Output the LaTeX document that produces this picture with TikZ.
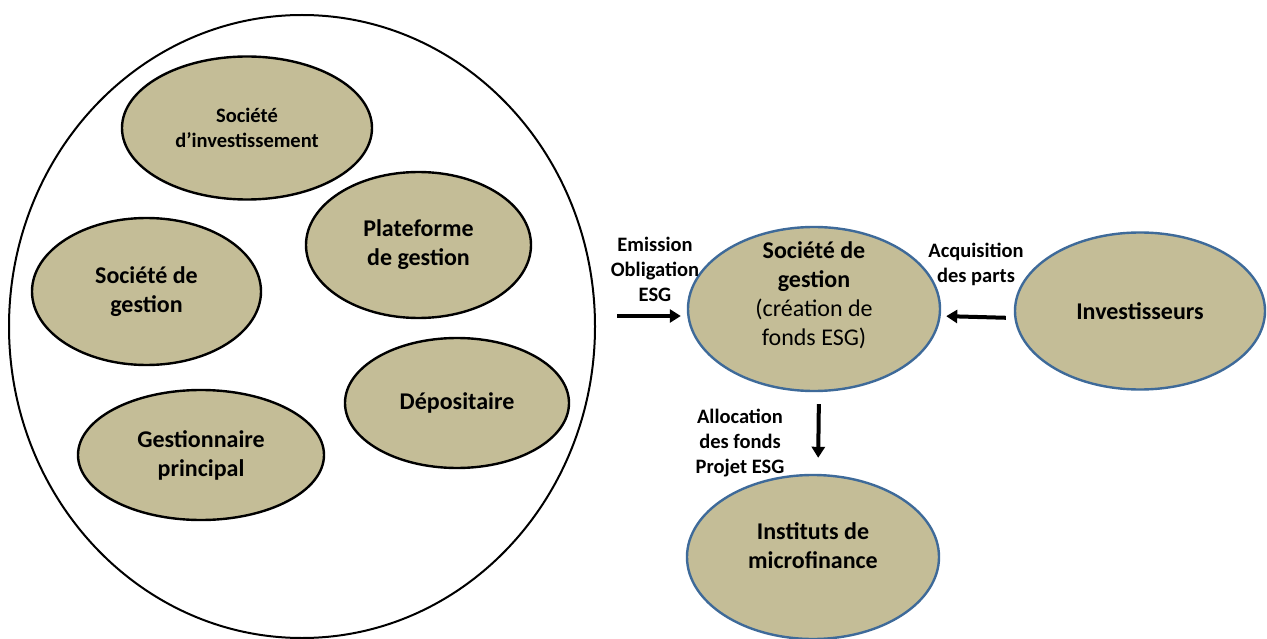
\documentclass[tikz,border=0pt]{standalone}
\usepackage{fontspec}
\setmainfont{Carlito}
\usepackage{xcolor}
\usepackage{tikz}
\usetikzlibrary{shapes, calc, arrows.meta, positioning}
\definecolor{khaki}{RGB}{196,189,151}
\definecolor{steelblue}{RGB}{62,106,153}

\begin{document}
\begin{tikzpicture}[x=1pt, y=-1pt,
	big/.style={font=\fontsize{24}{29}\selectfont\bfseries},
	blob/.style={ellipse, draw=black, line width=2.4pt, fill=khaki, inner sep=0pt, align=center, big},
	blueblob/.style={blob, draw=steelblue},
	flow/.style={line width=4pt, -{Triangle[length=11pt,width=13pt]}},
	tag/.style={align=center, font=\fontsize{20.5}{25}\selectfont\bfseries}]
	\path[use as bounding box, fill=white] (0,0) rectangle (1267,639);
	
	\node[draw, ellipse, line width=2pt, inner sep=0pt, minimum width=586pt, minimum height=623pt] (group) at (302,326.5) {};
	\node[blob, minimum width=250pt, minimum height=143pt, font=\fontsize{20.5}{25}\selectfont\bfseries] (invsoc) at (247,128) {Société\\d’investissement};
	\node[blob, minimum width=225pt, minimum height=146pt] (platf) at (418.5,245) {Plateforme\\de gestion};
	\node[blob, minimum width=229pt, minimum height=147pt] (socg) at (146.5,291.5) {Société de\\gestion};
	\node[blob, minimum width=224pt, minimum height=130pt] (depo) at (457,403) {Dépositaire};
	\node[blob, minimum width=246pt, minimum height=130pt] (gprinc) at (201,455) {Gestionnaire\\principal};
	
	\node[blueblob, minimum width=252pt, minimum height=164pt] (gestion) at (814,309) {};
	\node[big, align=center] (gestiontxt) at ([yshift=14pt]gestion.center) {Société de\\gestion\\{\mdseries (création de}\\{\mdseries fonds ESG)}};
	\node[blueblob, minimum width=250pt, minimum height=157pt] (invest) at (1140,311) {Investisseurs};
	\node[blueblob, minimum width=252pt, minimum height=164pt] (micro) at (813,557) {};
	\node[big, align=center] (microtxt) at ([yshift=11pt]micro.center) {Instituts de\\microfinance};
	
	\coordinate (emis) at (617,316);
	\draw[flow, shorten >=6pt] (emis) -- (emis -| gestion.west);
	\draw[flow, shorten <=8pt, shorten >=5pt] ([yshift=-7pt]invest.west) -- ([yshift=-7pt]gestion.east);
	\draw[flow, shorten <=12pt, shorten >=16pt] ([xshift=5pt]gestion.south) -- ([xshift=5pt]micro.north);
	
	\node[tag] (emislbl) at (655,269) {Emission\\Obligation\\ESG};
	\node[tag] (acqlbl) at (976,264) {Acquisition\\des parts};
	\node[tag] (alloclbl) at (740,443) {Allocation\\des fonds\\Projet ESG};
\end{tikzpicture}
\end{document}
